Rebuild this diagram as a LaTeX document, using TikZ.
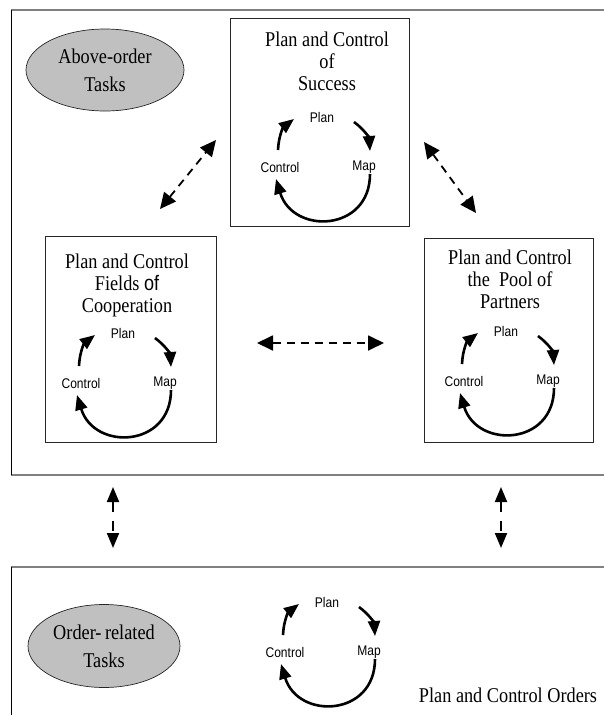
\documentclass[tikz,border=0pt]{standalone}
\usepackage{fontspec}
\setmainfont[FakeStretch=0.87]{Liberation Serif}
\newfontfamily\cyclefont[FakeStretch=0.86]{Liberation Sans}
\usetikzlibrary{arrows.meta, shapes, positioning}
\usepackage{xcolor}
\definecolor{framegray}{RGB}{128,128,128}
\definecolor{taskgray}{RGB}{192,192,192}
\tikzset{frameedge/.style={draw=framegray, line width=2pt},
frameside/.style={draw=black, line width=0.8pt}}
\tikzset{levelbox/.style={rectangle, draw=black!85, line width=0.8pt, inner sep=0pt},
taskellipse/.style={ellipse, draw=black!85, fill=taskgray, line width=0.7pt, inner sep=1pt, align=center, font=\fontsize{21}{28}\selectfont}}

\begin{document}
\begin{tikzpicture}[
        x=1pt, y=-1pt,
        boxtitle/.style={align=center, inner sep=0pt, font=\fontsize{21}{22}\selectfont},
        cyclabel/.style={inner sep=0pt, font=\cyclefont\fontsize{14}{14}\selectfont},
        cycarrow/.style={line width=2.6pt, -{Triangle[length=15pt, width=12pt]}},
        linkarrow/.style={line width=1.8pt, dash pattern=on 8pt off 6pt, {Triangle[length=16pt, width=15pt]}-{Triangle[length=16pt, width=15pt]}},
        levelarrow/.style={line width=2pt, dash pattern=on 10pt off 9pt, {Triangle[length=15pt, width=12pt]}-{Triangle[length=15pt, width=12pt]}}
    ]
        \useasboundingbox (0,0) rectangle (604,715);
        % Frames
        \draw[frameedge] (610,10) -- (11,10);
        \draw[frameedge] (11,475) -- (610,475);
        \draw[frameside] (11,10) -- (11,475);
        \draw[frameedge] (610,567) -- (11,567);
        \draw[frameside] (11,567) -- (11,720);
        % Tasks
        \node[taskellipse, minimum width=158pt, minimum height=82pt] (above) at (105,70) {Above-order\\Tasks};
        \node[taskellipse, minimum width=152pt, minimum height=83pt] (order) at (104,646) {Order-\,related\\Tasks};
        % Boxes
        \node[levelbox, minimum width=179pt, minimum height=208pt] (succ) at (319.5,122) {};
        \node[levelbox, minimum width=171pt, minimum height=206pt] (coop) at (130.5,339) {};
        \node[levelbox, minimum width=169pt, minimum height=204pt] (pool) at (508.5,340) {};
        % Titles
        \node[boxtitle] (succ-title) at (327,61) {Plan and Control\\of\\Success};
        \node[boxtitle] (coop-title) at (127,285) {Plan and Control\\Fields {\cyclefont of}\\Cooperation};
        \node[boxtitle] (pool-title) at (510,279) {Plan and Control\\the\ \ Pool of\\Partners};
        \node[boxtitle] (orders-title) at (508,695) {Plan and Control Orders};
        % Cycles
        \foreach \c/\px/\py in {succ/322/117, coop/123/333, pool/506/331, ord/327/602} {
            \node[cyclabel] (\c-plan) at (\px,\py) {Plan};
            \node[cyclabel] (\c-ctrl) at (\px-42,\py+50) {Control};
            \node[cyclabel] (\c-map) at (\px+42,\py+50) {Map};
            \draw[cycarrow] ([shift={(-2,-17)}]\c-ctrl.center) to[bend left=25] ([shift={(-28,2)}]\c-plan.center);
            \draw[cycarrow] ([shift={(32,5)}]\c-plan.center) to[bend left=25] ([shift={(6,-16)}]\c-map.center);
            \draw[cycarrow] ([shift={(6,7)}]\c-map.center) .. controls ([shift={(6,65)}]\c-map.center) and ([shift={(13,68)}]\c-ctrl.center) .. ([shift={(-4,12)}]\c-ctrl.center);
        }
        % Links
        \coordinate (succ-coop-a) at (160,209);
        \coordinate (succ-coop-b) at (216,140);
        \coordinate (succ-pool-a) at (424,142);
        \coordinate (succ-pool-b) at (476,213);
        \coordinate (coop-pool-a) at (257,343);
        \coordinate (coop-pool-b) at (384,343);
        \coordinate (left-up) at (113,487);
        \coordinate (left-down) at (113,548);
        \coordinate (right-up) at (501,487);
        \coordinate (right-down) at (501,548);
        \draw[linkarrow] (succ-coop-a) -- (succ-coop-b);
        \draw[linkarrow] (succ-pool-a) -- (succ-pool-b);
        \draw[linkarrow] (coop-pool-a) -- (coop-pool-b);
        \draw[levelarrow] (left-up) -- (left-down);
        \draw[levelarrow] (right-up) -- (right-down);
    \end{tikzpicture}
\end{document}
